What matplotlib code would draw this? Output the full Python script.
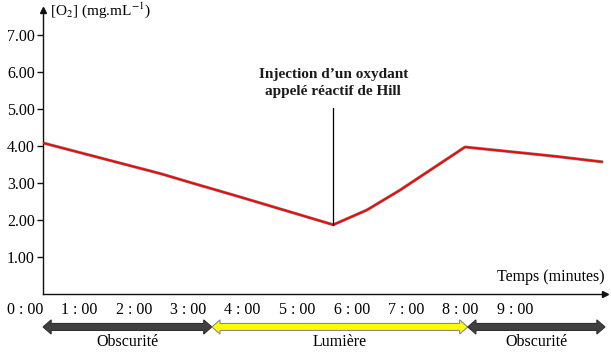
import matplotlib
matplotlib.use("Agg")
import matplotlib.pyplot as plt
from matplotlib.patches import Polygon

# Oxygen concentration
t_min = [0.0, 2.16, 2.71, 3.62, 5.33, 5.95, 6.56, 7.75, 9.40, 10.26]
o2 = [4.08, 3.25, 3.01, 2.62, 1.87, 2.27, 2.81, 3.97, 3.72, 3.57]

tick_minutes = list(range(10))
tick_labels = [f"{m} : 00" for m in tick_minutes]
y_ticks = [1, 2, 3, 4, 5, 6, 7]

injection_t = 5.33
injection_top = 5.02

periods = ["Obscurité", "Lumière", "Obscurité"]
period_edges = [0.0, 3.1, 7.8, 10.32]
period_colors = ["#404040", "#ffff00", "#404040"]
period_edgecolors = ["#303030", "#8a8a8a", "#303030"]

plt.rcParams["font.family"] = ["Liberation Serif", "DejaVu Serif"]
plt.rcParams["mathtext.fontset"] = "stix"

fig = plt.figure(figsize=(6.11, 3.55), dpi=100)
ax = fig.add_axes([0.0704, 0.1718, 0.9198, 0.80])

ax.plot(t_min, o2, color="#808080", lw=2.2, solid_joinstyle="round", zorder=2)
ax.plot(t_min, o2, color="#ff0000", lw=1.3, solid_joinstyle="round", zorder=3)

ax.set_xlim(0, 10.32)
ax.set_ylim(0, 7.67)

for s in ["top", "right"]:
    ax.spines[s].set_visible(False)
for s in ["left", "bottom"]:
    ax.spines[s].set_linewidth(1.0)
    ax.spines[s].set_color("#111111")

ax.plot(1, 0, marker=">", color="#111111", ms=5, transform=ax.get_yaxis_transform(), clip_on=False)
ax.plot(0, 1, marker="^", color="#111111", ms=5, transform=ax.get_xaxis_transform(), clip_on=False)

ax.set_yticks(y_ticks)
ax.set_yticklabels([f"{v:.2f}" for v in y_ticks], fontsize=11.5)
ax.tick_params(axis="y", length=4, width=1, pad=2, color="#111111")
ax.set_xticks([])

for m, lab in zip(tick_minutes, tick_labels):
    ax.text(m, -0.055, lab, transform=ax.get_xaxis_transform(), ha="right", va="center",
            fontsize=11.5, clip_on=False)

ax.text(0.013, 1.0, "[O$_2$] (mg.mL$^{-1}$)", transform=ax.transAxes, ha="left", va="center",
        fontsize=11)
ax.text(1.0, 0.06, "Temps (minutes)", transform=ax.transAxes, ha="right", va="center",
        fontsize=11.5)

ax.plot([injection_t, injection_t], [min(o2), injection_top], color="black", lw=0.9, zorder=4)
ax.text(injection_t, 5.70, "Injection d\u2019un oxydant\nappelé réactif de Hill", ha="center",
        va="center", fontsize=11, fontweight="bold", linespacing=1.35, color="#1a1a1a")

# double arrows for light / dark periods
xt = ax.get_xaxis_transform()
yc, hb, hh, hl = -0.116, 0.0123, 0.025, 0.15
for i, name in enumerate(periods):
    x0, x1 = period_edges[i], period_edges[i + 1]
    verts = [(x0, yc), (x0 + hl, yc + hh), (x0 + hl, yc + hb), (x1 - hl, yc + hb),
             (x1 - hl, yc + hh), (x1, yc), (x1 - hl, yc - hh), (x1 - hl, yc - hb),
             (x0 + hl, yc - hb), (x0 + hl, yc - hh)]
    ax.add_patch(Polygon(verts, closed=True, transform=xt, clip_on=False,
                         facecolor=period_colors[i], edgecolor=period_edgecolors[i], lw=0.8))
    ax.text((x0 + x1) / 2, -0.168, name, transform=xt, ha="center", va="center",
            fontsize=11.5, clip_on=False)

fig.savefig("out.png", dpi=100)
